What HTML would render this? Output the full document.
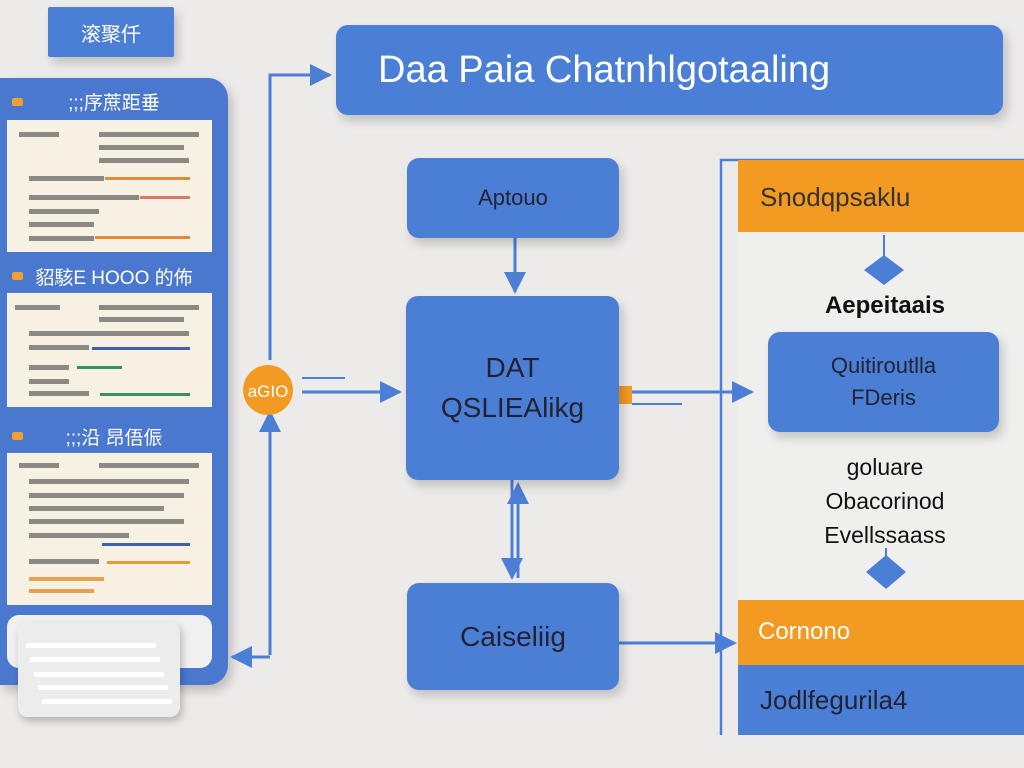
<!DOCTYPE html>
<html><head><meta charset="utf-8"><style>
body{margin:0;width:1024px;height:768px;background:#ecebe9;position:relative;overflow:hidden;font-family:"Liberation Sans","Noto Sans CJK SC",sans-serif}
.a{position:absolute;box-sizing:border-box}
.blue{background:#4b7fd6;color:#fff;border-radius:12px;box-shadow:4px 6px 10px rgba(0,0,0,.18);display:flex;align-items:center;justify-content:center;text-align:center}
.card{background:#f6f1e2;left:7px;width:205px}
.ln{position:absolute;height:3px}
.tx{position:absolute;height:5px;background:#444;opacity:.6}
.hd{color:#fff;font-size:19px;left:0;width:228px;text-align:center}
.dot{width:11px;height:8px;background:#f0a030;left:12px;border-radius:2px}
</style></head><body>
<div class="a blue" style="left:48px;top:7px;width:126px;height:50px;border-radius:2px;font-size:20px">滚聚仟</div>
<div class="a" style="left:0;top:78px;width:228px;height:607px;background:#4a78cf;border-radius:0 20px 20px 0;box-shadow:4px 6px 10px rgba(0,0,0,.2)"></div>
<div class="a dot" style="top:98px"></div><div class="a hd" style="top:88px">;;;序蔗距垂</div>
<div class="a dot" style="top:272px"></div><div class="a hd" style="top:263px">貂駭E HOOO 的佈</div>
<div class="a dot" style="top:432px"></div><div class="a hd" style="top:423px">;;;沿 昂俉侲</div>
<div class="a card" style="top:120px;height:132px">
<div class="tx" style="left:12px;top:12px;width:40px"></div><div class="tx" style="left:92px;top:12px;width:100px"></div>
<div class="tx" style="left:92px;top:25px;width:85px"></div><div class="tx" style="left:92px;top:38px;width:90px"></div>
<div class="tx" style="left:22px;top:56px;width:75px"></div><div class="ln" style="left:98px;top:57px;width:85px;background:#e08a3c"></div>
<div class="tx" style="left:22px;top:75px;width:110px"></div><div class="ln" style="left:133px;top:76px;width:50px;background:#d9786c"></div>
<div class="tx" style="left:22px;top:89px;width:70px"></div><div class="tx" style="left:22px;top:102px;width:65px"></div>
<div class="tx" style="left:22px;top:116px;width:65px"></div><div class="ln" style="left:88px;top:116px;width:95px;background:#e08a3c"></div>
</div>
<div class="a card" style="top:293px;height:114px">
<div class="tx" style="left:8px;top:12px;width:45px"></div><div class="tx" style="left:92px;top:12px;width:100px"></div>
<div class="tx" style="left:92px;top:24px;width:85px"></div><div class="tx" style="left:22px;top:38px;width:160px"></div>
<div class="tx" style="left:22px;top:52px;width:60px"></div><div class="ln" style="left:85px;top:54px;width:98px;background:#3f5fb0"></div>
<div class="tx" style="left:22px;top:72px;width:40px"></div><div class="ln" style="left:70px;top:73px;width:45px;background:#3a9060"></div>
<div class="tx" style="left:22px;top:86px;width:40px"></div><div class="tx" style="left:22px;top:98px;width:60px"></div><div class="ln" style="left:93px;top:100px;width:90px;background:#3a9060"></div>
</div>
<div class="a card" style="top:453px;height:152px">
<div class="tx" style="left:12px;top:10px;width:40px"></div><div class="tx" style="left:92px;top:10px;width:100px"></div>
<div class="tx" style="left:22px;top:26px;width:160px"></div><div class="tx" style="left:22px;top:40px;width:155px"></div>
<div class="tx" style="left:22px;top:53px;width:135px"></div><div class="tx" style="left:22px;top:66px;width:155px"></div>
<div class="tx" style="left:22px;top:80px;width:100px"></div><div class="ln" style="left:95px;top:90px;width:88px;background:#3f5fb0"></div>
<div class="tx" style="left:22px;top:106px;width:70px"></div><div class="ln" style="left:100px;top:108px;width:83px;background:#e89a30"></div>
<div class="ln" style="left:22px;top:124px;width:75px;height:4px;background:#e8a050"></div><div class="ln" style="left:22px;top:136px;width:65px;height:4px;background:#e8a050"></div>
</div>
<div class="a" style="left:7px;top:615px;width:205px;height:53px;background:#f0f0f0;border-radius:12px"></div>
<div class="a" style="left:18px;top:622px;width:162px;height:95px;background:#ececec;border-radius:10px;box-shadow:2px 4px 8px rgba(0,0,0,.25)">
<div class="ln" style="left:8px;top:21px;width:130px;height:5px;background:#fff"></div>
<div class="ln" style="left:12px;top:35px;width:130px;height:5px;background:#fff"></div>
<div class="ln" style="left:16px;top:50px;width:130px;height:5px;background:#fff"></div>
<div class="ln" style="left:20px;top:63px;width:130px;height:5px;background:#fff"></div>
<div class="ln" style="left:24px;top:77px;width:130px;height:5px;background:#fff"></div>
</div>

<div class="a" style="left:738px;top:232px;width:286px;height:368px;background:#efefee"></div>
<svg class="a" style="left:0;top:0" width="1024" height="768">
<defs><marker id="M" markerWidth="22" markerHeight="22" refX="20" refY="11" orient="auto" markerUnits="userSpaceOnUse"><path d="M0,0L22,11L0,22z" fill="#4b7fd6"/></marker></defs>
<g stroke="#4b7fd6" stroke-width="3" fill="none">
<path d="M270,360V75H330" marker-end="url(#M)"/>
<path d="M270,655V412" marker-end="url(#M)"/>
<path d="M270,657H232" marker-end="url(#M)"/>
<path d="M302,392H400" marker-end="url(#M)"/>
<path d="M302,378H345" stroke-width="2"/>
<path d="M515,238V292" marker-end="url(#M)"/>
<path d="M512,480V578" marker-end="url(#M)"/>
<path d="M518,578V484" marker-end="url(#M)"/>
<path d="M632,392H752" marker-end="url(#M)"/>
<path d="M632,404H682" stroke-width="2"/>
<path d="M619,643H735" marker-end="url(#M)"/>
<path d="M721,735V160H1024" stroke-width="2.5"/>
<path d="M884,235V258" stroke-width="2"/>
<path d="M886,548V560" stroke-width="2"/>
</g>
<circle cx="268" cy="390" r="25" fill="#f29a22"/>
<text x="268" y="397" fill="#fff" font-size="17" text-anchor="middle" font-family="Liberation Sans">aGIO</text>
<rect x="618" y="386" width="14" height="18" fill="#f29a22"/>
<path d="M884,255L904,270L884,285L864,270z" fill="#4b7fd6"/>
<path d="M886,555L906,572L886,589L866,572z" fill="#4b7fd6"/>
</svg>

<div class="a blue" style="left:336px;top:25px;width:667px;height:90px;font-size:38px;justify-content:flex-start;padding-left:42px">Daa Paia Chatnhlgotaaling</div>
<div class="a blue" style="left:407px;top:158px;width:212px;height:80px;font-size:22px;color:#223">Aptouo</div>
<div class="a blue" style="left:406px;top:296px;width:213px;height:184px;font-size:28px;line-height:40px;color:#223">DAT<br>QSLIEAlikg</div>
<div class="a blue" style="left:407px;top:583px;width:212px;height:107px;font-size:28px;color:#223">Caiseliig</div>

<div class="a" style="left:738px;top:160px;width:286px;height:72px;background:#f39a22;font-size:26px;color:#333;padding:22px 0 0 22px">Snodqpsaklu</div>
<div class="a" style="left:790px;top:292px;width:190px;text-align:center;font-size:24px;font-weight:bold;color:#111">Aepeitaais</div>
<div class="a blue" style="left:768px;top:332px;width:231px;height:100px;font-size:22px;line-height:32px;color:#223">Quitiroutlla<br>FDeris</div>
<div class="a" style="left:780px;top:450px;width:210px;text-align:center;font-size:23px;line-height:34px;color:#111">goluare<br>Obacorinod<br>Evellssaass</div>
<div class="a" style="left:738px;top:600px;width:286px;height:65px;background:#f39a22;font-size:24px;color:#fff;padding:18px 0 0 20px">Cornono</div>
<div class="a" style="left:738px;top:665px;width:286px;height:70px;background:#4b7fd6;font-size:26px;color:#223;padding:20px 0 0 22px">Jodlfegurila4</div>
</body></html>
